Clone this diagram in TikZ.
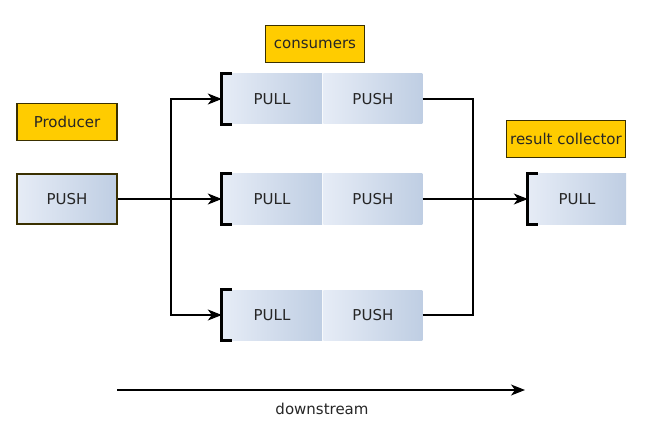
\documentclass[tikz,border=0pt]{standalone}
\usepackage{fontspec}
\setmainfont{DejaVu Sans}
\usetikzlibrary{positioning,arrows.meta}

\definecolor{tagyellow}{HTML}{FFCC00}
\definecolor{tagborder}{HTML}{3A3000}
\definecolor{stageleft}{HTML}{E6ECF6}
\definecolor{stageright}{HTML}{BFCEE3}
\definecolor{inkgray}{HTML}{262626}

\tikzstyle{tag} = [rectangle, minimum width=100pt, minimum height=37pt, fill=tagyellow, draw=tagborder, line width=1.1pt, text=inkgray, text centered]
\tikzstyle{stage} = [rectangle, minimum width=100pt, minimum height=50pt, left color=stageleft, right color=stageright, text=inkgray, text centered]
\tikzstyle{wire} = [line width=1.1pt]
\tikzstyle{arrow} = [line width=1.1pt,->,>={Stealth[length=14pt,width=11pt,inset=4pt]}]
\tikzstyle{bracket} = [line width=2.8pt]

\begin{document}
\begin{tikzpicture}[x=1pt, y=-1pt, font=\fontsize{15}{17}\selectfont]
        \useasboundingbox (0,0) rectangle (667,425);

        % producer
        \node (producer) [tag] at (67,122) {Producer};
        \node (source) [stage, draw=tagborder, line width=1.1pt] at (67,199) {PUSH};

        % consumers
        \node (consumers) [tag, minimum width=99pt] at (315,44) {consumers};
        \node (pull1) [stage] at (272,99) {PULL};
        \node (push1) [stage, minimum width=99pt, right=1pt of pull1] {PUSH};
        \node (pull2) [stage] at (272,199) {PULL};
        \node (push2) [stage, minimum width=99pt, right=1pt of pull2] {PUSH};
        \node (pull3) [stage] at (272,315) {PULL};
        \node (push3) [stage, minimum width=99pt, right=1pt of pull3] {PUSH};

        % result collector
        \node (collector) [tag, minimum width=119pt] at (566,139) {result collector};
        \node (sink) [stage, minimum width=98pt] at (577,199) {PULL};

        \foreach \p in {pull1,pull2,pull3,sink}
            \draw [bracket] ([xshift=10pt]\p.north west) -- (\p.north west) -- (\p.south west) -- ++(10pt,0);

        % connectors
        \coordinate (fork) at (171,199);
        \coordinate (join) at (473,199);
        \draw [arrow] (source.east) -- (pull2.west);
        \draw [arrow] (fork) |- (pull1.west);
        \draw [arrow] (fork) |- (pull3.west);
        \draw [wire] (push1.east) -| (join);
        \draw [wire] (push3.east) -| (join);
        \draw [arrow] (push2.east) -- (sink.west);

        % direction
        \coordinate (flowstart) at (117,390);
        \coordinate (flowend) at (525,390);
        \draw [arrow] (flowstart) -- (flowend);
        \node (downstream) [text=inkgray] at (322,409) {downstream};
    \end{tikzpicture}
\end{document}
